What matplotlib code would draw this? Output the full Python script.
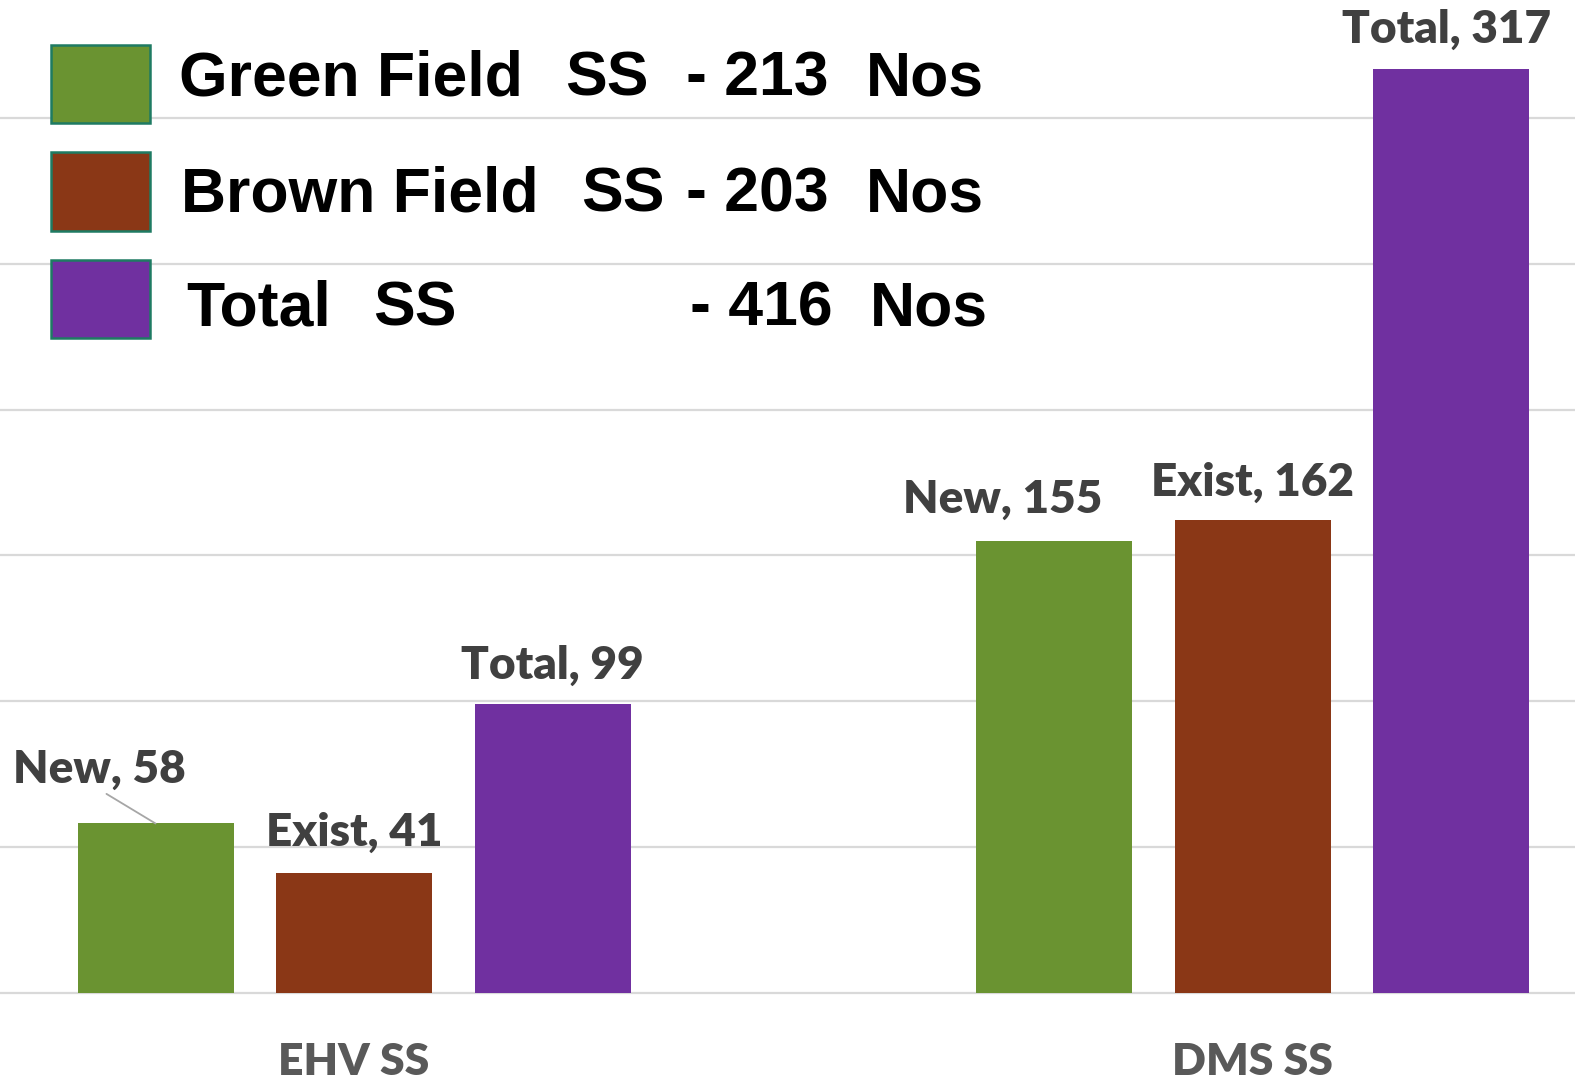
import numpy as np
from matplotlib import pyplot as plt
from matplotlib.patches import Rectangle

# data
categories = ["EHV SS", "DMS SS"]
series_names = ["New", "Exist", "Total"]
new_vals = [58, 155]
exist_vals = [41, 162]
total_vals = [99, 317]

legend_rows = [
    ["Green Field", "SS", "- 213", "Nos"],
    ["Brown Field", "SS", "- 203", "Nos"],
    ["Total", "SS", "- 416", "Nos"],
]

colors = ["#6A9331", "#8A3716", "#7030A0"]

W, H = 1575, 1082
fig = plt.figure(figsize=(W / 100, H / 100), dpi=100)

# axes placed so that y=0 sits at pixel row 992 and 50 units = 145.7 px
ppu = 145.7 / 50
y0 = -3
y1 = 992.5 / ppu
bottom_px = 992.5 - y0 * ppu
ax = fig.add_axes([0, 1 - bottom_px / H, 1, bottom_px / H])

unit = 898.5  # px between group centres
width = 156 / unit
step = 198.5 / unit
x = np.arange(len(categories))

bars = []
for i, (vals, c) in enumerate(zip([new_vals, exist_vals, total_vals], colors)):
    b = ax.bar(x + (i - 1) * step, vals, width, color=c, zorder=3)
    bars.append(b)

ax.set_xlim(-354 / unit, (W - 354) / unit)
ax.set_ylim(y0, y1)
ax.set_yticks(np.arange(0, 301, 50))
ax.yaxis.grid(True, color="#D9D9D9", lw=1.6)
ax.set_axisbelow(True)
ax.tick_params(axis="y", length=0, labelleft=False)
for s in ax.spines.values():
    s.set_visible(False)

ax.set_xticks(x, categories)
ax.tick_params(axis="x", length=0, pad=29, labelsize=32, labelcolor="#595959")
for t in ax.get_xticklabels():
    t.set_fontfamily("Lato")
    t.set_fontweight("heavy")
    t.set_verticalalignment("top")

lbl_font = dict(fontfamily="Lato", fontweight="heavy", fontsize=33, color="#404040")

# label offsets in pixels (dx, dy above bar top)
offsets = {
    (0, 0): (-56, 41), (0, 1): (0, 27), (0, 2): (0, 25),
    (1, 0): (-51, 28), (1, 1): (0, 25), (1, 2): (-5, 26),
}
for s, b in enumerate(bars):
    for g, rect in enumerate(b):
        val = rect.get_height()
        dx, dy = offsets[(g, s)]
        cx = rect.get_x() + rect.get_width() / 2
        arrow = None
        if (g, s) == (0, 0):
            arrow = dict(arrowstyle="-", color="#A6A6A6", lw=1.3,
                         shrinkA=2, shrinkB=0, relpos=(0.5, 0))
        ax.annotate(f"{series_names[s]}, {val}", xy=(cx, val),
                    xytext=(dx, dy), textcoords="offset pixels",
                    ha="center", va="baseline", arrowprops=arrow, **lbl_font)


def fx(px):
    return px / W


def fy(py):
    return 1 - py / H


# hand-drawn legend block
sq_tops = [45, 152.5, 260]
text_base = [95.5, 211, 325.5]
text_x = [
    [179, 565, 686, 866],
    [181, 581, 686, 866],
    [186, 373, 690, 870],
]
for r, row in enumerate(legend_rows):
    fig.patches.append(Rectangle((fx(51), fy(sq_tops[r] + 78)), 99 / W, 78 / H,
                                 transform=fig.transFigure, facecolor=colors[r],
                                 edgecolor="#1E7B63", lw=1.8, zorder=5))
    for seg, xp in zip(row, text_x[r]):
        fig.text(fx(xp), fy(text_base[r]), seg, fontfamily="Liberation Sans",
                 fontweight="bold", fontsize=45, color="black",
                 ha="left", va="baseline")

fig.savefig("out.png", dpi=100)
